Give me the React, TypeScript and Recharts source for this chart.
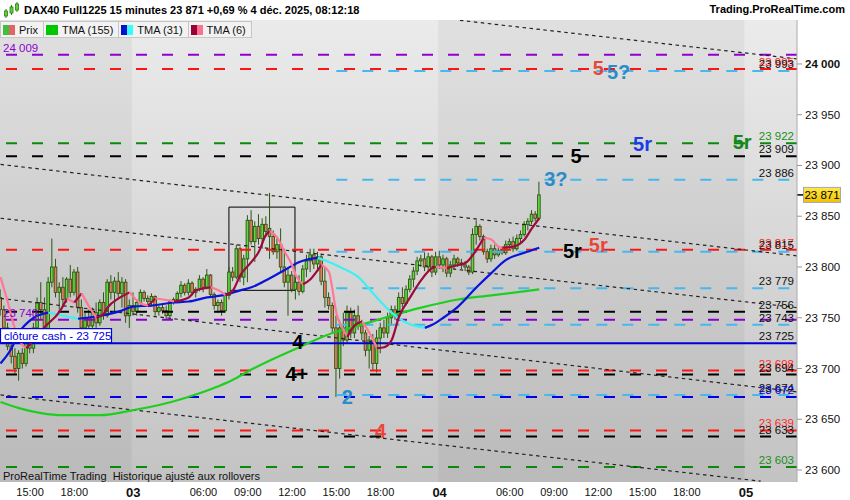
import React from "react";
import {
  ComposedChart,
  Bar,
  Line,
  XAxis,
  YAxis,
  ReferenceLine,
  ReferenceArea,
  ReferenceDot,
} from "recharts";

const FONT = "Arial, 'Liberation Sans', Helvetica, sans-serif";

// 15-minute candles [open, high, low, close] — 2 Dec from 13:00
const dec2 = [
  [23770, 23778, 23752, 23758], [23758, 23762, 23735, 23740], [23740, 23745, 23718, 23722],
  [23722, 23730, 23705, 23712], [23712, 23720, 23695, 23700], [23700, 23718, 23688, 23715],
  [23715, 23720, 23700, 23705], [23705, 23740, 23702, 23735], [23735, 23740, 23715, 23720],
  [23720, 23745, 23715, 23740], [23740, 23770, 23735, 23765], [23765, 23785, 23748, 23758],
  [23758, 23770, 23725, 23735], [23735, 23790, 23730, 23785], [23785, 23828, 23780, 23800],
  [23800, 23808, 23770, 23775], [23775, 23785, 23758, 23780], [23780, 23790, 23762, 23768],
  [23768, 23790, 23765, 23788], [23788, 23802, 23770, 23775], [23775, 23798, 23772, 23795],
  [23795, 23800, 23755, 23760], [23760, 23768, 23735, 23740], [23740, 23755, 23725, 23750],
  [23750, 23758, 23735, 23742], [23742, 23760, 23738, 23755], [23755, 23765, 23740, 23745],
  [23745, 23768, 23742, 23765], [23765, 23775, 23748, 23752], [23752, 23788, 23750, 23785],
  [23785, 23792, 23768, 23775], [23775, 23790, 23755, 23786], [23786, 23795, 23770, 23774],
  [23774, 23790, 23760, 23785], [23785, 23788, 23745, 23752], [23752, 23768, 23740, 23762],
];

// 3 Dec, 01:15 -> 21:45
const dec3 = [
  [23762, 23775, 23752, 23756], [23756, 23768, 23752, 23765], [23765, 23778, 23762, 23775],
  [23775, 23777, 23766, 23769], [23769, 23772, 23763, 23766], [23766, 23774, 23762, 23771],
  [23771, 23772, 23752, 23756], [23756, 23762, 23752, 23760], [23760, 23764, 23754, 23757],
  [23757, 23762, 23748, 23752], [23752, 23768, 23750, 23766], [23766, 23770, 23763, 23768],
  [23768, 23776, 23766, 23774], [23774, 23786, 23770, 23782], [23782, 23784, 23772, 23775],
  [23775, 23788, 23772, 23784], [23784, 23786, 23772, 23775], [23775, 23780, 23770, 23778],
  [23778, 23792, 23776, 23788], [23788, 23790, 23775, 23780], [23780, 23798, 23778, 23792],
  [23792, 23793, 23770, 23773], [23773, 23775, 23758, 23762], [23762, 23768, 23755, 23765],
  [23765, 23768, 23752, 23757], [23757, 23775, 23755, 23772], [23772, 23800, 23768, 23795],
  [23795, 23800, 23786, 23790], [23790, 23822, 23788, 23818], [23818, 23820, 23785, 23790],
  [23790, 23812, 23782, 23808], [23808, 23851, 23785, 23846], [23846, 23856, 23822, 23825],
  [23825, 23845, 23805, 23840], [23840, 23852, 23822, 23828], [23828, 23848, 23818, 23842],
  [23842, 23850, 23830, 23835], [23838, 23873, 23808, 23830], [23830, 23836, 23812, 23815],
  [23815, 23828, 23808, 23822], [23822, 23838, 23795, 23800], [23800, 23818, 23780, 23785],
  [23785, 23800, 23752, 23792], [23792, 23796, 23775, 23778], [23778, 23790, 23768, 23785],
  [23785, 23792, 23772, 23776], [23776, 23802, 23774, 23798], [23798, 23812, 23790, 23806],
  [23806, 23818, 23795, 23812], [23812, 23818, 23798, 23803], [23803, 23815, 23796, 23810],
  [23810, 23812, 23782, 23786], [23786, 23800, 23760, 23770], [23770, 23775, 23758, 23762],
  [23762, 23765, 23735, 23740], [23740, 23752, 23672, 23700], [23700, 23748, 23690, 23740],
  [23740, 23755, 23722, 23728], [23728, 23762, 23725, 23755], [23755, 23760, 23730, 23735],
  [23735, 23758, 23730, 23752], [23752, 23762, 23738, 23742], [23742, 23748, 23728, 23735],
  [23735, 23738, 23712, 23718], [23718, 23732, 23700, 23728], [23728, 23734, 23698, 23705],
  [23705, 23738, 23696, 23730], [23730, 23745, 23715, 23740], [23740, 23748, 23730, 23735],
  [23735, 23755, 23730, 23750], [23750, 23762, 23742, 23758], [23758, 23762, 23748, 23752],
  [23752, 23775, 23748, 23770], [23770, 23780, 23760, 23764], [23764, 23782, 23762, 23778],
  [23778, 23792, 23775, 23788], [23788, 23800, 23780, 23796], [23796, 23810, 23792, 23806],
  [23806, 23812, 23800, 23808], [23808, 23815, 23796, 23800], [23800, 23814, 23795, 23810],
  [23810, 23812, 23790, 23795], [23795, 23815, 23792, 23810],
];

// 4 Dec, 01:15 -> 08:00 (last bar still running)
const dec4 = [
  [23810, 23816, 23798, 23802], [23802, 23812, 23795, 23808], [23808, 23810, 23790, 23794],
  [23794, 23806, 23790, 23802], [23802, 23812, 23798, 23808], [23808, 23810, 23800, 23804],
  [23804, 23808, 23798, 23802], [23802, 23806, 23796, 23800], [23800, 23802, 23792, 23795],
  [23795, 23838, 23793, 23832], [23832, 23846, 23822, 23840], [23840, 23842, 23826, 23830],
  [23830, 23832, 23812, 23815], [23815, 23818, 23804, 23808], [23808, 23822, 23805, 23818],
  [23818, 23822, 23808, 23812], [23812, 23820, 23810, 23816], [23816, 23820, 23812, 23814],
  [23814, 23826, 23812, 23822], [23822, 23828, 23818, 23825], [23825, 23830, 23815, 23818],
  [23818, 23832, 23816, 23828], [23828, 23836, 23824, 23832], [23832, 23845, 23830, 23842],
  [23842, 23848, 23836, 23845], [23845, 23856, 23842, 23852], [23852, 23855, 23845, 23848],
  [23848, 23884, 23846, 23871],
];

// triangular moving averages, [bar index, value]
const tma155 = [
  [0, 23667], [5, 23661], [11, 23656], [17, 23654], [27, 23654], [36, 23659], [43, 23664],
  [50, 23671], [58, 23681], [63, 23689], [68, 23699], [81, 23721], [90, 23735], [95, 23740],
  [105, 23751], [114, 23760], [124, 23768], [133, 23772], [146, 23778],
];
const tma31 = [
  [0, 23705], [3, 23720], [5, 23735], [9, 23750], [13, 23755], [17, 23752], [21, 23749],
  [27, 23752], [32, 23756], [36, 23761], [41, 23762], [47, 23765], [51, 23766], [56, 23770],
  [60, 23772], [65, 23777], [68, 23780], [73, 23789], [77, 23797], [81, 23805], [86, 23809],
  [89, 23805], [92, 23800], [97, 23790], [101, 23774], [106, 23755], [110, 23745], [115, 23740],
  [117, 23743], [120, 23750], [124, 23761], [129, 23780], [133, 23794], [137, 23807],
  [142, 23814], [146, 23819],
];
const tma6 = [
  [0, 23790], [2, 23765], [4, 23738], [6, 23723], [7, 23720], [9, 23728], [12, 23741],
  [16, 23756], [18, 23769], [20, 23765], [22, 23774], [24, 23761], [26, 23750], [28, 23754],
  [29, 23760], [32, 23769], [35, 23775], [38, 23764], [40, 23762], [42, 23769], [44, 23768],
  [47, 23766], [51, 23770], [53, 23777], [57, 23780], [60, 23775], [61, 23772], [63, 23777],
  [65, 23792], [68, 23805], [70, 23815], [72, 23832], [73, 23835], [75, 23829], [77, 23815],
  [79, 23802], [80, 23792], [82, 23783], [84, 23788], [86, 23797], [87, 23802], [89, 23795],
  [90, 23777], [91, 23755], [93, 23738], [94, 23731], [95, 23738], [97, 23745], [98, 23746],
  [99, 23741], [101, 23728], [102, 23720], [104, 23721], [106, 23728], [108, 23751],
  [111, 23770], [114, 23787], [117, 23799], [118, 23800], [121, 23799], [124, 23802],
  [126, 23804], [129, 23817], [131, 23829], [133, 23827], [135, 23820], [136, 23819],
  [139, 23820], [142, 23827], [144, 23838], [146, 23848],
];

// horizontal levels
const redLevels = [23995, 23817, 23698, 23639];
const blackLevels = [23909, 23756, 23694, 23633];
const greenLevels = [23922, 23603];
const purpleLevels = [24009, 23748];
const cyanLevels = [23993, 23886, 23815, 23779, 23743, 23674];
const blueLevels = [23672];
const cyanFrom = 91;
const cashClose = 23725;
const lastPrice = 23871;

// dotted channel lines [[bar, value], [bar, value]]
const trendLines = [
  [[124.5, 24043], [215.8, 24005]],
  [[0, 23901], [215.8, 23811]],
  [[0, 23848], [215.8, 23760]],
  [[0, 23769], [215.8, 23677]],
  [[0, 23674], [206, 23589]],
];

// wave counts [text, bar, value, tone]
const waveMarks: [string, number, number, string][] = [
  ["5", 162, 23996, "red"],
  ["5?", 167.5, 23992, "sky"],
  ["5r", 201, 23923, "green"],
  ["5r", 174, 23921, "blue"],
  ["5", 156, 23909, "black"],
  ["3?", 150.5, 23887, "sky"],
  ["5r", 155, 23816, "black"],
  ["5r", 162, 23822, "red"],
  ["4", 80.6, 23726, "black"],
  ["4+", 80.3, 23695, "black"],
  ["2", 94, 23672, "sky"],
  ["4", 103, 23639, "red"],
];

const zoneBox = { from: 61.9, to: 79.8, low: 23777, high: 23859 };

const xTicks = [8, 20, 36, 55, 67, 79, 91, 103, 119, 138, 150, 162, 174, 186, 202];
const xTickLabels = ["15:00", "18:00", "03", "06:00", "09:00", "12:00", "15:00", "18:00",
  "04", "06:00", "09:00", "12:00", "15:00", "18:00", "05"];
const yTicks = [23600, 23650, 23700, 23750, 23800, 23850, 23900, 23950, 24000];
const darkDays = [[-0.2, 35.6], [118.6, 201.6]];

const X_DOMAIN = [-0.14, 215.85];
const Y_DOMAIN = [23588.2, 24043.3];

const candles = [...dec2, ...dec3, ...dec4].map(([o, h, l, c], i) => ({ i, o, h, l, c }));

const fmt = (v: number) => {
  const s = String(Math.round(v));
  return s.slice(0, -3) + " " + s.slice(-3);
};

const toneColor: Record<string, string> = {
  red: "#e8453c",
  sky: "#2b8cc8",
  green: "#15861a",
  blue: "#1b3be8",
  black: "#000",
};

// split a curve into rising / falling runs so each can take its own colour
function splitRuns(pts: number[][]) {
  const runs: { up: boolean; data: { i: number; v: number }[] }[] = [];
  for (let k = 1; k < pts.length; k++) {
    const up = pts[k][1] >= pts[k - 1][1];
    const last = runs[runs.length - 1];
    const b = { i: pts[k][0], v: pts[k][1] };
    if (last && last.up === up) last.data.push(b);
    else runs.push({ up, data: [{ i: pts[k - 1][0], v: pts[k - 1][1] }, b] });
  }
  return runs;
}

function Candle(props: any) {
  const { x, width, payload } = props;
  let { y, height } = props;
  if (x == null || !payload || y == null) return null;
  if (height < 0) {
    y += height;
    height = -height;
  }
  const { o, h, l, c } = payload;
  const cx = x + width / 2;
  const k = h === l ? 0 : height / (h - l);
  const yo = y + (h - o) * k;
  const yc = y + (h - c) * k;
  const top = Math.min(yo, yc);
  const bh = Math.max(Math.abs(yo - yc), 1);
  return (
    <g>
      <line x1={cx} x2={cx} y1={y} y2={y + height} stroke="#2c5512" strokeWidth={1} />
      <rect x={cx - 1.3} y={top} width={2.6} height={bh}
        fill={c >= o ? "#62d83c" : "#ea7d64"} stroke="#2c5512" strokeWidth={0.9} />
    </g>
  );
}

function TimeTick(props: any) {
  const { x, y, payload } = props;
  const text = xTickLabels[xTicks.indexOf(payload.value)] ?? "";
  const day = text.length === 2;
  return (
    <text x={x} y={y} dy={day ? 7 : 6} textAnchor="middle" fontFamily={FONT}
      fontSize={day ? 13 : 11} fontWeight={day ? "bold" : "normal"} fill="#111">
      {text}
    </text>
  );
}

function PriceTick(props: any) {
  const { x, y, payload } = props;
  return (
    <text x={x} y={y} dy={4} textAnchor="start" fontFamily={FONT} fontSize={11.5}
      fontWeight={payload.value === 24000 ? "bold" : "normal"} fill="#111">
      {fmt(payload.value)}
    </text>
  );
}

function PriceTag(props: any) {
  const vb = props.viewBox;
  if (!vb) return null;
  const x = vb.x + vb.width;
  const y = vb.y;
  return (
    <g>
      <defs>
        <linearGradient id="gold" x1="0" y1="0" x2="0" y2="1">
          <stop offset="0" stopColor="#ffe84a" />
          <stop offset="1" stopColor="#f2c200" />
        </linearGradient>
      </defs>
      <line x1={x} x2={x + 6} y1={y} y2={y} stroke="#000" strokeWidth={1.5} />
      <rect x={x + 6.5} y={y - 7.5} width={37} height={15} fill="url(#gold)" stroke="#a8a8a8" />
      <text x={x + 25} y={y + 4} textAnchor="middle" fontFamily={FONT} fontSize={11.5} fill="#000">
        {fmt(lastPrice)}
      </text>
    </g>
  );
}

function CashBox(props: any) {
  const vb = props.viewBox;
  if (!vb) return null;
  const x = vb.x;
  const y = vb.y;
  return (
    <g>
      <rect x={x + 0.5} y={y - 14.5} width={111} height={14} fill="#fff" stroke="#0000dd" strokeWidth={1.2} />
      <text x={x + 4} y={y - 3.5} fontFamily={FONT} fontSize={11.5} fill="#0000dd">
        {"clôture cash -  " + fmt(cashClose)}
      </text>
    </g>
  );
}

const levelLabel = (v: number, fill: string) => ({
  value: fmt(v),
  position: "insideBottomRight" as const,
  offset: 3,
  fill,
  fontSize: 11.5,
  fontFamily: FONT,
});

const DASH = "11 15";

function LegendBox({ colors, text }: { colors: string[]; text: string }) {
  return (
    <div style={{
      display: "flex", alignItems: "center", height: 15, padding: "0 5px 0 2px",
      border: "1px solid #c6c6c6", background: "#f2f2f2", marginRight: -1,
    }}>
      <div style={{ display: "flex", width: 12, height: 10, marginRight: 4 }}>
        {colors.map((c, k) => (
          <div key={k} style={{ flex: 1, background: c }} />
        ))}
      </div>
      <span style={{ fontSize: 11, color: "#111" }}>{text}</span>
    </div>
  );
}

export default function App() {
  const tma6Runs = splitRuns(tma6);
  const tma31Runs = splitRuns(tma31);
  const tma155Data = tma155.map(([i, v]) => ({ i, v }));

  return (
    <div style={{
      position: "absolute", left: 0, top: 0, width: 850, height: 500,
      background: "#fff", overflow: "hidden", fontFamily: FONT,
    }}>
      <div style={{
        position: "absolute", left: 0, top: 20, width: 797, height: 462,
        background: "linear-gradient(#ebebeb, #c3c3c3)",
      }} />
      <ComposedChart
        width={850}
        height={500}
        data={candles}
        margin={{ top: 20, right: 0, bottom: 0, left: 0 }}
        style={{ position: "absolute", left: 0, top: 0 }}
      >
        <XAxis
          type="number"
          dataKey="i"
          domain={X_DOMAIN}
          allowDataOverflow
          ticks={xTicks}
          interval={0}
          height={18}
          axisLine={false}
          tickLine={false}
          tick={<TimeTick />}
        />
        <YAxis
          orientation="right"
          type="number"
          domain={Y_DOMAIN}
          allowDataOverflow
          ticks={yTicks}
          interval={0}
          width={53}
          axisLine={{ stroke: "#aaa" }}
          tickLine={{ stroke: "#999" }}
          tickSize={5}
          tickMargin={3}
          tick={<PriceTick />}
        />

        {darkDays.map(([a, b], k) => (
          <ReferenceArea key={"d" + k} x1={a} x2={b} fill="#000" fillOpacity={0.045}
            stroke="none" ifOverflow="hidden" />
        ))}

        {purpleLevels.map((v, k) => (
          <ReferenceLine key={"p" + k} y={v} stroke="#8e00d0" strokeWidth={2} strokeDasharray={DASH}
            label={{ value: fmt(v), position: "insideBottomLeft", offset: 3, fill: "#8e00d0", fontSize: 11.5, fontFamily: FONT }} />
        ))}
        {redLevels.map((v, k) => (
          <ReferenceLine key={"r" + k} y={v} stroke="#ff1414" strokeWidth={2} strokeDasharray={DASH}
            label={levelLabel(v, "#ff2a2a")} />
        ))}
        {blackLevels.map((v, k) => (
          <ReferenceLine key={"b" + k} y={v} stroke="#000" strokeWidth={2} strokeDasharray={DASH}
            label={levelLabel(v, "#111")} />
        ))}
        {greenLevels.map((v, k) => (
          <ReferenceLine key={"g" + k} y={v} stroke="#0a8a0a" strokeWidth={2} strokeDasharray={DASH}
            label={levelLabel(v, "#1b8f1b")} />
        ))}
        {cyanLevels.map((v, k) => (
          <ReferenceLine key={"c" + k} segment={[{ x: cyanFrom, y: v }, { x: X_DOMAIN[1], y: v }]}
            stroke="#45b8ee" strokeWidth={2} strokeDasharray={DASH}
            label={levelLabel(v, "#111")} />
        ))}
        {blueLevels.map((v, k) => (
          <ReferenceLine key={"u" + k} y={v} stroke="#0000ee" strokeWidth={2} strokeDasharray={DASH}
            label={levelLabel(v, "#0000dd")} />
        ))}
        <ReferenceLine y={cashClose} stroke="#0000dd" strokeWidth={2} label={levelLabel(cashClose, "#111")} />

        {trendLines.map(([a, b], k) => (
          <ReferenceLine key={"t" + k} segment={[{ x: a[0], y: a[1] }, { x: b[0], y: b[1] }]}
            stroke="#222" strokeWidth={1.2} strokeDasharray="3.5 3.5" />
        ))}

        <ReferenceArea x1={zoneBox.from} x2={zoneBox.to} y1={zoneBox.low} y2={zoneBox.high}
          fill="none" fillOpacity={0} stroke="#000" strokeWidth={1} />

        <Bar
          dataKey={(d: any) => [d.l, d.h]}
          barSize={3}
          shape={(p: any) => <Candle {...p} />}
          isAnimationActive={false}
        />

        <Line data={tma155Data} dataKey="v" type="monotone" stroke="#1fcf1f" strokeWidth={2.2}
          dot={false} activeDot={false} isAnimationActive={false} />
        {tma31Runs.map((r, k) => (
          <Line key={"m31" + k} data={r.data} dataKey="v" type="monotone"
            stroke={r.up ? "#0a14d8" : "#3ff0f0"} strokeWidth={2.2}
            dot={false} activeDot={false} isAnimationActive={false} />
        ))}
        {tma6Runs.map((r, k) => (
          <Line key={"m6" + k} data={r.data} dataKey="v" type="monotone"
            stroke={r.up ? "#9c0b3c" : "#ff7896"} strokeWidth={2.2}
            dot={false} activeDot={false} isAnimationActive={false} />
        ))}

        <ReferenceLine y={cashClose} stroke="none" strokeOpacity={0} label={<CashBox />} />

        {waveMarks.map(([text, i, v, tone], k) => (
          <ReferenceDot key={"w" + k} x={i} y={v} r={1} fill="none" stroke="none"
            label={{ value: text, position: "center", fill: toneColor[tone], fontSize: 20, fontWeight: "bold", fontFamily: FONT }} />
        ))}

        <ReferenceLine y={lastPrice} stroke="none" strokeOpacity={0} label={<PriceTag />} />
      </ComposedChart>

      {/* header */}
      <div style={{
        position: "absolute", left: 0, top: 0, width: 850, height: 20, background: "#fff",
        display: "flex", alignItems: "center",
      }}>
        <svg width={18} height={18} style={{ marginLeft: 3, marginRight: 3 }}>
          <line x1={3} x2={3} y1={8} y2={17} stroke="#2c7a12" />
          <rect x={1.5} y={10} width={3} height={5} fill="#5ed43c" stroke="#2c7a12" strokeWidth={0.8} />
          <line x1={8.5} x2={8.5} y1={4} y2={14} stroke="#2c7a12" />
          <rect x={7} y={6} width={3} height={6} fill="#5ed43c" stroke="#2c7a12" strokeWidth={0.8} />
          <line x1={14} x2={14} y1={1} y2={11} stroke="#2c7a12" />
          <rect x={12.5} y={3} width={3} height={6} fill="#5ed43c" stroke="#2c7a12" strokeWidth={0.8} />
        </svg>
        <span style={{ fontSize: 11, fontWeight: "bold", color: "#000" }}>
          DAX40 Full1225 15 minutes 23 871 +0,69 % 4 déc. 2025, 08:12:18
        </span>
        <span style={{ position: "absolute", right: 5, top: 3, fontSize: 11, fontWeight: "bold", color: "#000" }}>
          Trading.ProRealTime.com
        </span>
      </div>

      {/* legend */}
      <div style={{ position: "absolute", left: 0, top: 21, display: "flex" }}>
        <LegendBox colors={["#3fbf3f", "#e06666"]} text="Prix" />
        <LegendBox colors={["#00c800"]} text="TMA (155)" />
        <LegendBox colors={["#0010d0", "#33ffff"]} text="TMA (31)" />
        <LegendBox colors={["#990033", "#ff6f8f"]} text="TMA (6)" />
      </div>

      <div style={{ position: "absolute", left: 3, top: 470, fontSize: 11, color: "#111" }}>
        ProRealTime Trading&nbsp; Historique ajusté aux rollovers
      </div>
    </div>
  );
}
